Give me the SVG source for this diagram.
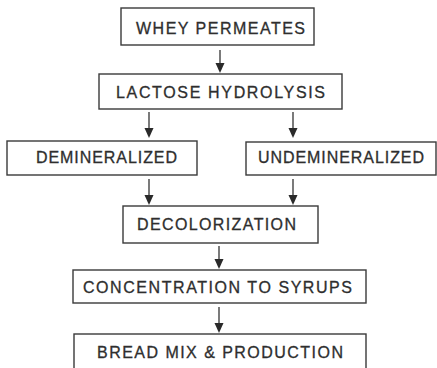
<svg xmlns="http://www.w3.org/2000/svg" width="437" height="368" viewBox="0 0 437 368">
<style>
.box{fill:#fff;stroke:#3a3a3a;stroke-width:1.4}
.lbl{font-family:"Liberation Sans",Arial,sans-serif;font-size:16px;fill:#2e2e2e;stroke:#2e2e2e;stroke-width:0.3}
.con{stroke:#333;stroke-width:1.3;fill:none}
.hd{fill:#2a2a2a}
</style>
<rect width="437" height="368" fill="#fff"/>
<g id="connectors">
<line class="con" x1="220" y1="50" x2="220" y2="64"/><path class="hd" d="M215.5,63 L224.5,63 L220,73 Z"/>
<line class="con" x1="149" y1="112" x2="149" y2="129"/><path class="hd" d="M144.5,128 L153.5,128 L149,138 Z"/>
<line class="con" x1="293" y1="112" x2="293" y2="129"/><path class="hd" d="M288.5,128 L297.5,128 L293,138 Z"/>
<line class="con" x1="149" y1="179" x2="149" y2="196"/><path class="hd" d="M144.5,195 L153.5,195 L149,205 Z"/>
<line class="con" x1="293" y1="179" x2="293" y2="196"/><path class="hd" d="M288.5,195 L297.5,195 L293,205 Z"/>
<line class="con" x1="219" y1="246" x2="219" y2="260"/><path class="hd" d="M214.5,259 L223.5,259 L219,269 Z"/>
<line class="con" x1="219" y1="307" x2="219" y2="324"/><path class="hd" d="M214.5,323 L223.5,323 L219,333 Z"/>
</g>
<g id="whey">
<rect class="box" x="121" y="8" width="193" height="37"/>
<text class="lbl" x="136" y="34" textLength="169" lengthAdjust="spacing">WHEY PERMEATES</text>
</g>
<g id="lactose">
<rect class="box" x="99" y="74" width="243" height="35"/>
<text class="lbl" x="116" y="98" textLength="209" lengthAdjust="spacing">LACTOSE HYDROLYSIS</text>
</g>
<g id="demin">
<rect class="box" x="7" y="141" width="190" height="34"/>
<text class="lbl" x="36" y="163" textLength="141" lengthAdjust="spacing">DEMINERALIZED</text>
</g>
<g id="undemin">
<rect class="box" x="246" y="142" width="190" height="33"/>
<text class="lbl" x="258" y="163" textLength="166" lengthAdjust="spacing">UNDEMINERALIZED</text>
</g>
<g id="decol">
<rect class="box" x="123" y="206" width="195" height="37"/>
<text class="lbl" x="137" y="230" textLength="159" lengthAdjust="spacing">DECOLORIZATION</text>
</g>
<g id="conc">
<rect class="box" x="73" y="270" width="293" height="33"/>
<text class="lbl" x="83" y="293" textLength="269" lengthAdjust="spacing">CONCENTRATION TO SYRUPS</text>
</g>
<g id="bread">
<rect class="box" x="74" y="334" width="292" height="40"/>
<text class="lbl" x="97" y="358" textLength="246" lengthAdjust="spacing">BREAD MIX &amp; PRODUCTION</text>
</g>
</svg>
